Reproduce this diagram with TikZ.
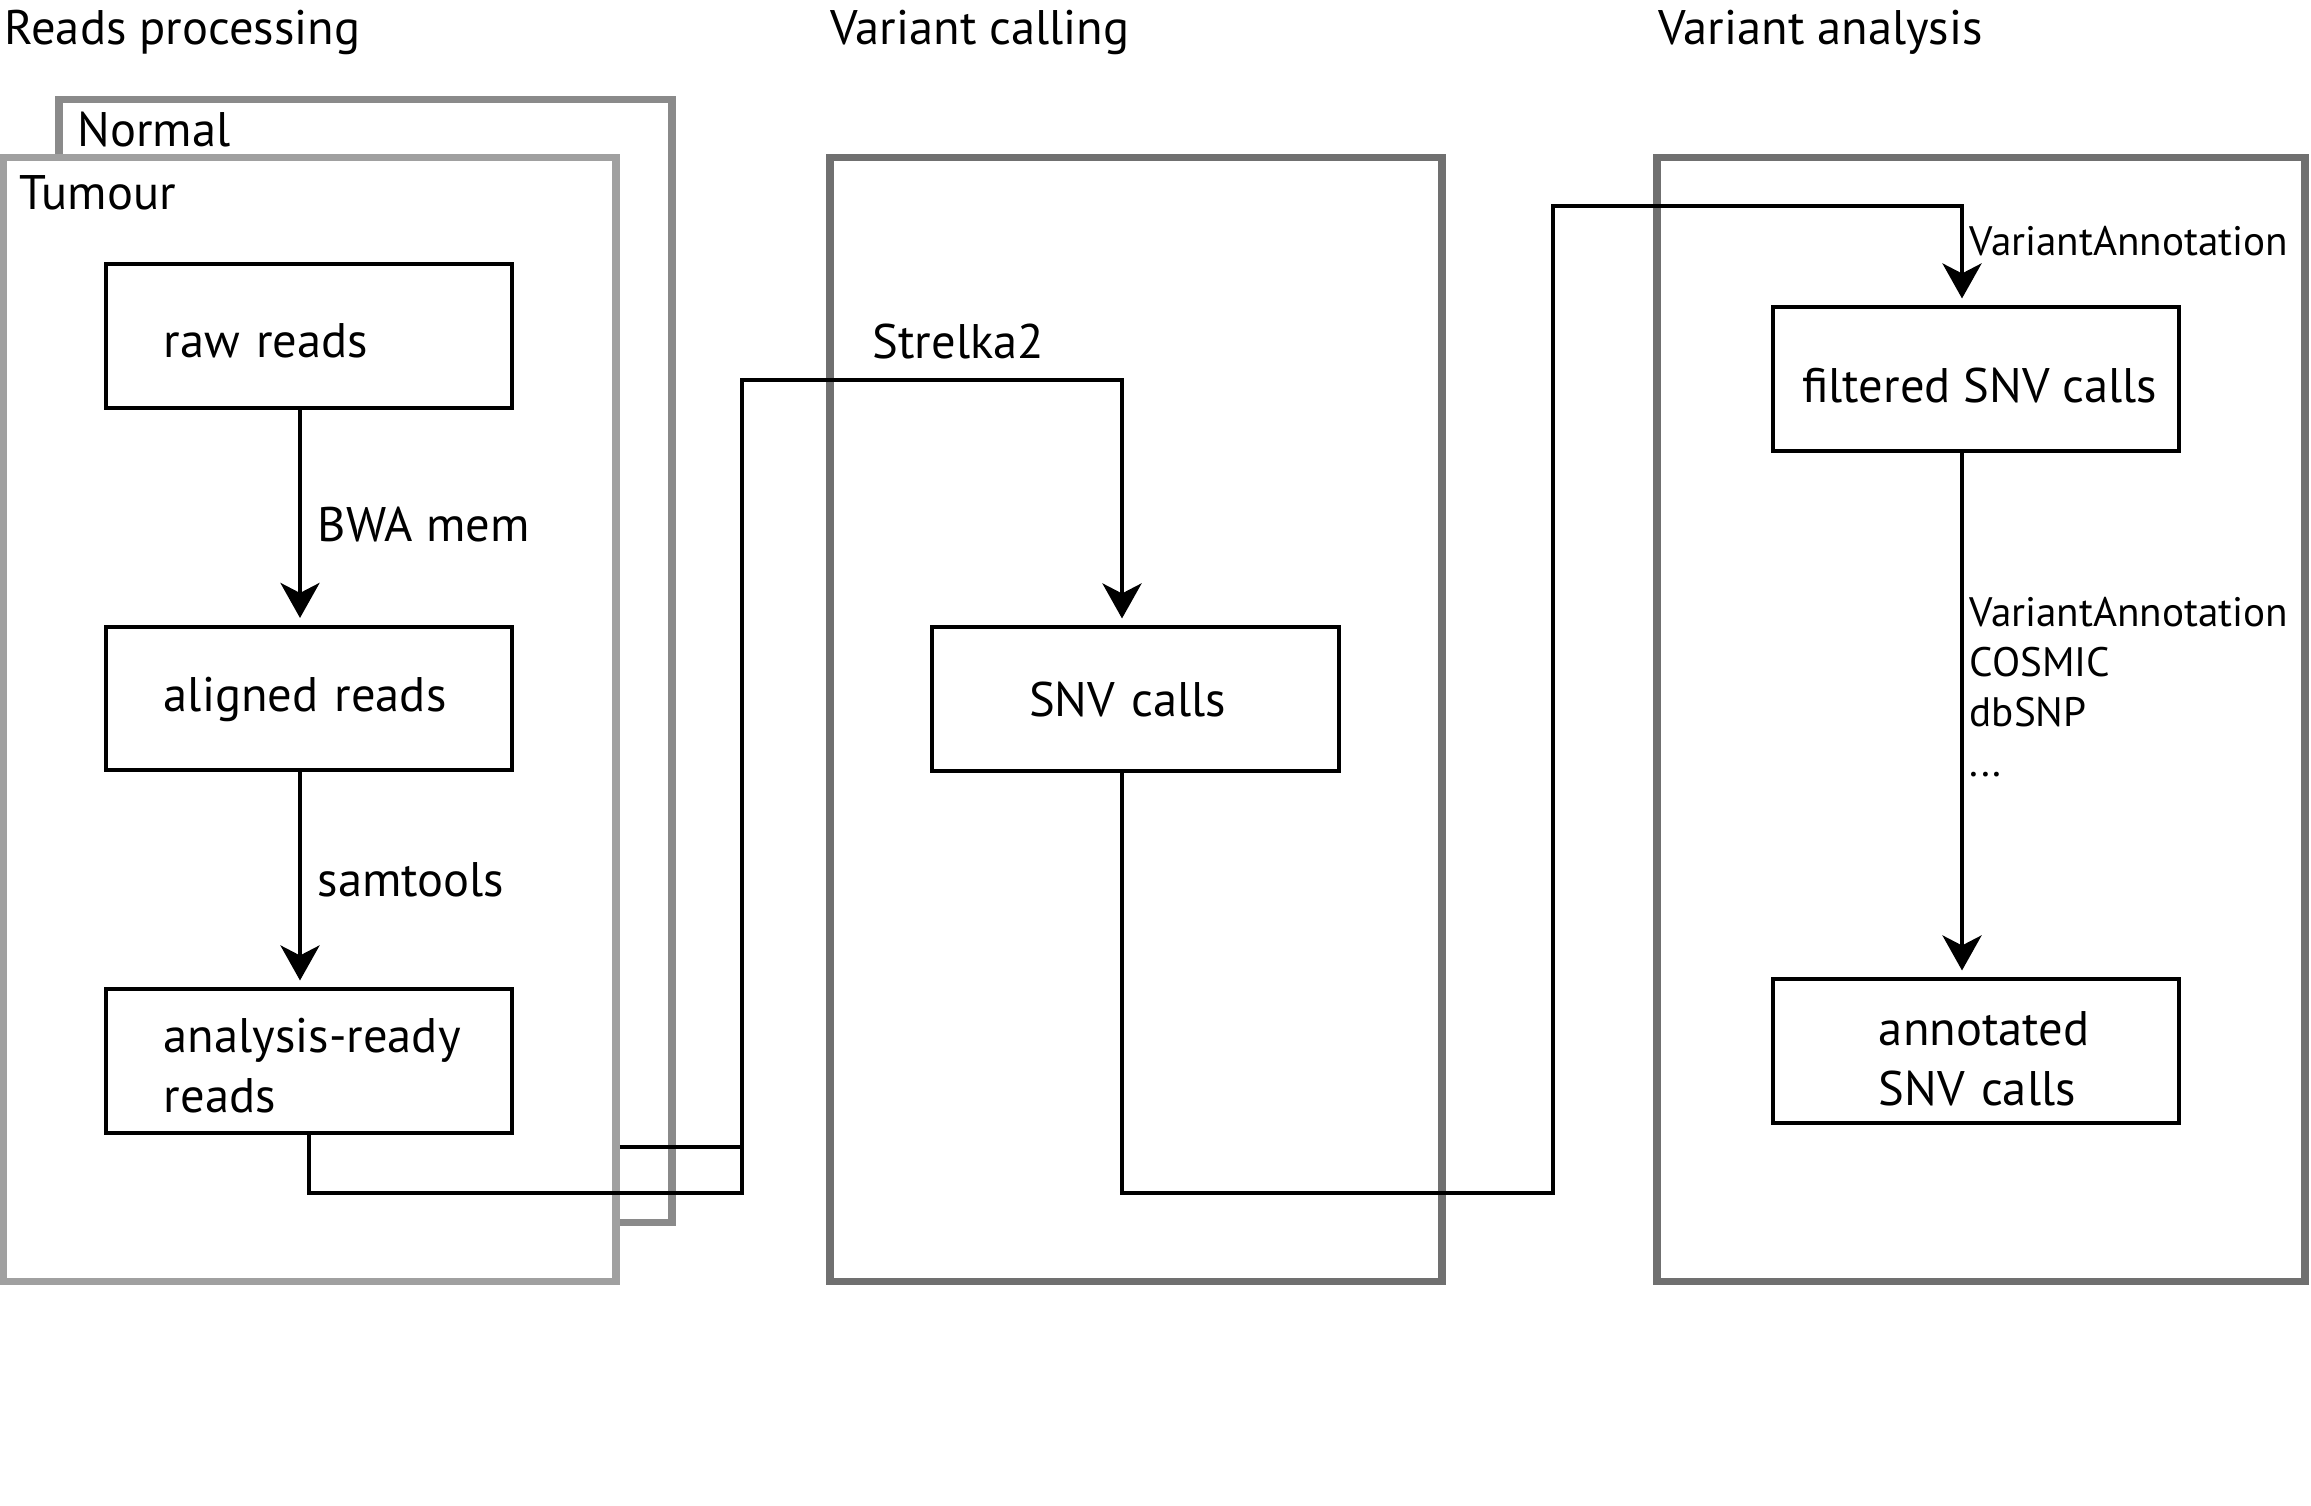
\documentclass[tikz,border=0pt]{standalone}
\usepackage{fontspec}
\setmainfont{PT Sans}
\usetikzlibrary{arrows.meta}
\definecolor{normalgray}{HTML}{8A8A8A}
\definecolor{tumourgray}{HTML}{A0A0A0}
\definecolor{framegray}{HTML}{707070}
\begin{document}
\begin{tikzpicture}[x=0.01cm,y=-0.01cm,
  bigfont/.style={font=\fontsize{13.8}{17}\selectfont},
  smallfont/.style={font=\fontsize{11.7}{14.2}\selectfont},
  frame/.style={draw=#1, line width=0.075cm, inner sep=0pt, rectangle},
  boxbase/.style={draw=black, line width=0.04cm, inner sep=0pt, rectangle,
    minimum width=4.06cm, minimum height=1.43cm, bigfont},
  stagebox/.style={boxbase, text width=4.06cm},
  oneline/.style={text height=#1, text depth=0pt},
  txt/.style={inner sep=0pt, anchor=base west},
  conn/.style={draw=black, line width=0.04cm},
  arr/.style={conn, -{Stealth[length=0.35cm, width=0.39cm, inset=0.1cm]}, shorten >=0.07cm},
]
\useasboundingbox (0,0) rectangle (2311,1505);

% frames
\node[frame=normalgray, minimum width=6.13cm, minimum height=11.22cm] (normal) at (365.5,661) {};
\node[frame=tumourgray, fill=white, minimum width=6.13cm, minimum height=11.23cm] (tumour) at (309.5,719.5) {};
\node[frame=framegray, minimum width=6.12cm, minimum height=11.23cm] (calling) at (1136,719.5) {};
\node[frame=framegray, minimum width=6.48cm, minimum height=11.23cm] (analysis) at (1981,719.5) {};

% titles
\node[txt, bigfont] (t1) at (4,44) {Reads processing};
\node[txt, bigfont] (t2) at (830,44) {Variant calling};
\node[txt, bigfont] (t3) at (1658,44) {Variant analysis};
\node[txt, bigfont] (tn) at (77,146) {Normal};
\node[txt, bigfont] (tt) at (19,209) {Tumour};

% boxes
\node[stagebox, align=left, oneline=12.5pt] (raw) at (309,336) {\hspace*{0.58cm}raw reads};
\node[stagebox, align=left, oneline=7.6pt] (aligned) at (309,698.5) {\hspace*{0.58cm}aligned reads};
\node[stagebox, align=left] (ready) at (309,1061) {\hspace*{0.58cm}\rule{0pt}{12.5pt}analysis-ready\\\hspace*{0.58cm}reads};
\node[stagebox, align=center, oneline=10.2pt] (snv) at (1135.5,699) {\hspace*{-0.16cm}SNV calls};
\node[boxbase, oneline=13.6pt] (filt) at (1976,379) {\hspace*{0.08cm}filtered SNV calls};
\node[stagebox, align=left] (annot) at (1976,1051) {\hspace*{1.06cm}\rule{0pt}{14pt}annotated\\\hspace*{1.06cm}SNV calls};

% helper coordinates
\coordinate (xa) at (300,0);
\coordinate (xb) at (742,0);
\coordinate (xc) at (1122,0);
\coordinate (xd) at (1553,0);
\coordinate (xe) at (1962,0);

% connectors
\draw[arr] (raw.south -| xa) -- (aligned.north -| xa);
\draw[arr] (aligned.south -| xa) -- (ready.north -| xa);
\draw[conn] (tumour.east |- 0,1147) -- (742,1147);
\draw[arr] (ready.south) |- (742,1193) |- (1122,380) -- (snv.north -| xc);
\draw[arr] (snv.south -| xc) |- (1553,1193) |- (1962,206) -- (filt.north -| xe);
\draw[arr] (filt.south -| xe) -- (annot.north -| xe);

% connector labels
\node[txt, bigfont] (l1) at (317,541) {BWA mem};
\node[txt, bigfont] (l2) at (317,896) {samtools};
\node[txt, bigfont] (l3) at (872,358) {Strelka2};
\node[txt, smallfont] (l4) at (1969,255) {VariantAnnotation};
\node[inner sep=0pt, anchor=north west, align=left, smallfont] (l5) at (1969,597) {VariantAnnotation\\COSMIC\\dbSNP\\...};
\end{tikzpicture}
\end{document}
